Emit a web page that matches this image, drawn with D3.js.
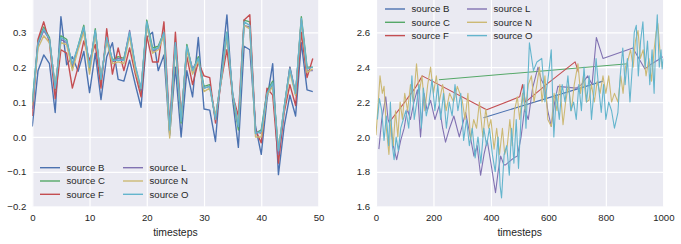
<!DOCTYPE html>
<html>
<head>
<meta charset="utf-8">
<script src="https://cdn.jsdelivr.net/npm/d3@7"></script>
<style>
  html, body { margin: 0; padding: 0; background: #fff; }
  svg { display: block; font-family: "Liberation Sans", Arial, sans-serif; }
</style>
</head>
<body>
<svg id="chart" width="681" height="244"></svg>
<script>
// left panel: 50 timesteps, one value per source
var leftB = [0.03,0.19,0.235,0.21,0.07,0.345,0.207,0.23,0.188,0.245,0.127,0.24,0.107,0.23,0.27,0.165,0.16,0.22,0.15,0.085,0.285,0.30,0.19,0.235,0.005,0.2,0.0,0.19,0.115,0.285,0.08,0.077,-0.013,0.19,0.35,0.107,-0.03,0.26,0.25,0.03,-0.05,0.107,0.21,-0.108,0.03,0.12,0.06,0.27,0.135,0.13];
var leftC = [0.1,0.275,0.315,0.285,0.135,0.29,0.28,0.2,0.26,0.32,0.19,0.31,0.16,0.285,0.22,0.23,0.225,0.295,0.2,0.13,0.335,0.255,0.26,0.3,0.01,0.27,0.04,0.265,0.19,0.23,0.145,0.15,0.05,0.17,0.3,0.12,0.02,0.335,0.33,0.01,0.02,0.13,0.16,-0.04,0.085,0.2,0.12,0.345,0.2,0.2];
var leftF = [0.06,0.28,0.33,0.27,0.11,0.25,0.24,0.14,0.2,0.275,0.22,0.265,0.14,0.31,0.18,0.255,0.19,0.255,0.18,0.115,0.29,0.215,0.215,0.33,0.03,0.3,0.06,0.23,0.15,0.215,0.175,0.17,0.04,0.16,0.25,0.12,0.06,0.335,0.35,0.02,-0.017,0.14,0.12,-0.075,0.07,0.15,0.09,0.3,0.17,0.225];
var leftL = [0.08,0.265,0.305,0.28,0.14,0.28,0.27,0.205,0.255,0.31,0.2,0.3,0.17,0.28,0.215,0.225,0.22,0.305,0.2,0.135,0.325,0.245,0.255,0.295,0.015,0.27,0.05,0.255,0.195,0.22,0.14,0.145,0.055,0.165,0.29,0.125,0.03,0.32,0.315,0.015,0.01,0.12,0.15,-0.05,0.08,0.2,0.125,0.335,0.19,0.19];
var leftN = [0.09,0.255,0.29,0.27,0.15,0.27,0.265,0.19,0.25,0.3,0.18,0.295,0.17,0.275,0.21,0.215,0.21,0.29,0.19,0.14,0.32,0.24,0.25,0.29,-0.003,0.26,0.05,0.25,0.18,0.22,0.13,0.14,0.06,0.16,0.29,0.12,0.035,0.32,0.31,0.0,0.0,0.12,0.145,-0.035,0.08,0.185,0.12,0.335,0.185,0.195];
var leftO = [0.1,0.27,0.31,0.28,0.14,0.285,0.275,0.21,0.26,0.315,0.2,0.305,0.165,0.285,0.22,0.22,0.22,0.3,0.205,0.14,0.33,0.25,0.255,0.3,0.02,0.27,0.045,0.26,0.19,0.225,0.14,0.145,0.05,0.165,0.3,0.125,0.03,0.33,0.32,0.01,0.015,0.125,0.155,-0.04,0.085,0.195,0.125,0.34,0.195,0.2];

// right panel: [timestep, value] pairs, sources have gaps
var rightB = [[374,2.11],[790,2.32]];
var rightC = [[219,2.328],[877,2.42]];
var rightF = [[49,2.09],[100,2.2],[140,2.29],[161,2.35],[385,2.156],[500,2.23],[510,2.3],[520,2.2],[600,2.31],[693,2.43],[705,2.37]];
var rightL = [[10,1.93],[20,2.1],[34,2.23],[42,2.1],[51,2.06],[60,1.95],[72,1.87],[86,1.98],[98,2.05],[109,2.16],[120,2.1],[132,2.2],[144,2.27],[155,2.0],[167,2.25],[178,2.15],[190,2.21],[205,2.1],[220,2.18],[232,2.05],[242,1.97],[256,2.05],[271,2.12],[290,2.0],[312,2.14],[326,2.02],[341,1.89],[352,1.95],[364,1.78],[376,1.9],[387,1.98],[400,1.85],[416,1.68],[425,1.8],[434,1.89],[445,1.84],[451,1.84],[465,1.86],[480,1.88],[492,1.89],[505,2.0],[517,2.16],[530,2.1],[545,2.28],[564,2.4],[575,2.33],[587,2.29],[598,2.15],[610,2.06],[622,2.2],[633,2.29],[697,2.28],[715,2.3],[737,2.35],[752,2.3],[767,2.57],[790,2.45],[894,2.51],[915,2.45],[936,2.39],[960,2.42],[980,2.44],[998,2.46]];
var rightN = [[0,2.01],[8,2.2],[14,2.35],[22,2.25],[28,2.29],[36,2.05],[45,1.9],[52,2.1],[60,1.95],[68,2.15],[76,2.0],[84,2.2],[92,2.1],[100,2.25],[110,2.15],[120,2.3],[130,2.2],[141,2.42],[150,2.25],[160,2.35],[170,2.15],[180,2.3],[190,2.4],[200,2.25],[210,2.35],[220,2.2],[232,2.3],[244,2.15],[256,2.25],[270,2.2],[283,2.29],[300,2.21],[310,2.1],[320,2.25],[329,1.98],[340,2.1],[350,2.05],[360,2.2],[372,2.0],[382,2.16],[392,2.05],[400,2.1],[411,1.93],[420,2.05],[430,1.9],[440,2.05],[448,1.9],[457,1.95],[466,2.1],[474,1.95],[482,2.15],[492,2.23],[500,2.1],[510,2.25],[520,2.15],[530,2.3],[541,2.35],[550,2.2],[560,2.3],[569,2.4],[578,2.2],[588,2.35],[598,2.1],[610,2.06],[620,2.25],[630,2.15],[640,2.3],[651,2.07],[660,2.2],[670,2.3],[680,2.15],[690,2.3],[703,2.42],[712,2.25],[722,2.35],[732,2.2],[741,2.21],[750,2.3],[760,2.2],[770,2.32],[780,2.25],[790,2.35],[800,2.25],[810,2.35],[820,2.2],[830,2.25],[842,2.2],[852,2.35],[860,2.25],[868,2.4],[877,2.44],[886,2.5],[895,2.4],[903,2.55],[912,2.61],[920,2.45],[930,2.5],[940,2.35],[950,2.45],[959,2.32],[968,2.5],[975,2.6],[981,2.65],[988,2.5],[996,2.4]];
var rightO = [[5,2.1],[12,2.22],[20,2.15],[28,1.98],[36,2.12],[44,1.95],[50,2.2],[57,1.95],[63,1.87],[70,2.0],[78,1.92],[86,2.05],[95,2.1],[104,2.15],[114,2.05],[125,2.35],[133,2.1],[142,2.2],[150,2.3],[158,2.05],[165,2.28],[175,2.12],[185,2.2],[195,2.33],[205,2.15],[215,2.3],[225,2.1],[235,2.25],[245,2.05],[255,2.2],[265,2.12],[275,2.3],[285,2.15],[295,2.25],[305,1.98],[315,2.1],[325,1.95],[335,2.05],[345,1.88],[355,2.0],[365,1.85],[375,2.05],[385,1.95],[395,2.05],[405,1.9],[415,1.8],[425,2.0],[432,1.72],[437,1.65],[446,1.9],[455,1.95],[464,1.78],[472,2.05],[480,1.85],[488,2.1],[496,1.82],[506,2.15],[515,2.3],[522,2.05],[534,2.54],[548,2.38],[560,2.43],[577,2.45],[588,2.2],[600,2.35],[610,2.5],[619,2.0],[628,2.25],[638,2.1],[648,2.3],[658,2.2],[668,2.35],[678,2.15],[688,2.2],[697,2.1],[706,2.3],[715,2.15],[724,2.4],[733,2.2],[742,2.35],[750,2.1],[758,2.25],[766,2.45],[774,2.3],[784,2.14],[792,2.3],[800,2.1],[810,2.2],[820,2.15],[830,2.05],[842,2.14],[850,2.35],[859,2.51],[867,2.3],[875,2.45],[884,2.2],[892,2.4],[899,2.6],[906,2.64],[913,2.35],[921,2.55],[929,2.66],[937,2.4],[945,2.55],[953,2.3],[961,2.5],[968,2.25],[974,2.55],[979,2.7],[986,2.4],[992,2.5],[996,2.39],[1000,2.45]];

var sourceNames = ["source B", "source C", "source F", "source L", "source N", "source O"];
var sourceColors = ["#4C72B0", "#55A868", "#C44E52", "#8172B2", "#CCB974", "#64B5CD"];
var leftXTicks = [0, 10, 20, 30, 40, 50];
var leftYTicks = [-0.2, -0.1, 0.0, 0.1, 0.2, 0.3];
var rightXTicks = [0, 200, 400, 600, 800, 1000];
var rightYTicks = [1.6, 1.8, 2.0, 2.2, 2.4, 2.6];

var svg = d3.select("#chart");

function drawPanel(opts) {
  var x = d3.scaleLinear().domain(opts.xDomain).range([opts.left, opts.right]);
  var y = d3.scaleLinear().domain(opts.yDomain).range([opts.bottom, opts.top]);

  var g = svg.append("g");
  g.append("rect")
    .attr("x", opts.left).attr("y", opts.top)
    .attr("width", opts.right - opts.left).attr("height", opts.bottom - opts.top)
    .attr("fill", "#EAEAF2");

  // grid
  var xAxis = g.append("g").attr("transform", "translate(0," + opts.bottom + ")")
    .call(d3.axisBottom(x).tickValues(opts.xTicks).tickSize(-(opts.bottom - opts.top)).tickPadding(6).tickFormat(d3.format("d")));
  var yAxis = g.append("g").attr("transform", "translate(" + opts.left + ",0)")
    .call(d3.axisLeft(y).tickValues(opts.yTicks).tickSize(-(opts.right - opts.left)).tickPadding(6).tickFormat(d3.format(".1f")));
  [xAxis, yAxis].forEach(function(a) {
    a.select(".domain").remove();
    a.selectAll(".tick line").attr("stroke", "#fff").attr("stroke-width", 1.2);
    a.selectAll(".tick text").attr("fill", "#262626").style("font-size", "9.6px");
  });
  xAxis.selectAll(".tick text").attr("dy", "0.85em");

  g.append("text")
    .attr("x", (opts.left + opts.right) / 2).attr("y", 236)
    .attr("text-anchor", "middle").attr("fill", "#262626")
    .style("font-size", "10.4px").text("timesteps");

  var clipId = "clip" + opts.id;
  svg.append("clipPath").attr("id", clipId).append("rect")
    .attr("x", opts.left).attr("y", opts.top)
    .attr("width", opts.right - opts.left).attr("height", opts.bottom - opts.top);

  var line = d3.line().x(function(d) { return x(d[0]); }).y(function(d) { return y(d[1]); });
  var lines = g.append("g").attr("clip-path", "url(#" + clipId + ")");
  opts.series.forEach(function(s, i) {
    lines.append("path").datum(s)
      .attr("d", line).attr("fill", "none")
      .attr("stroke", sourceColors[i]).attr("stroke-width", opts.lineWidth)
      .attr("stroke-linejoin", "round");
  });

  // legend, two columns of three
  var leg = g.append("g");
  sourceNames.forEach(function(name, i) {
    var col = Math.floor(i / 3), row = i % 3;
    var lx = opts.legendX + col * opts.legendColW;
    var ly = opts.legendY + row * 13.3;
    leg.append("line").attr("x1", lx).attr("x2", lx + 20).attr("y1", ly).attr("y2", ly)
      .attr("stroke", sourceColors[i]).attr("stroke-width", 1.4);
    leg.append("text").attr("x", lx + 26.5).attr("y", ly).attr("dy", "0.35em")
      .attr("fill", "#262626").style("font-size", "9.6px").text(name);
  });
}

var leftSteps = d3.range(leftB.length);
function pairUp(vals) { return leftSteps.map(function(t, i) { return [t, vals[i]]; }); }

drawPanel({
  id: "L", left: 32.3, right: 318.5, top: -2.6, bottom: 206.7,
  xDomain: [0, 50], yDomain: [-0.2, 0.4],
  xTicks: leftXTicks, yTicks: leftYTicks, lineWidth: 1.4,
  series: [pairUp(leftB), pairUp(leftC), pairUp(leftF), pairUp(leftL), pairUp(leftN), pairUp(leftO)],
  legendX: 40, legendY: 167.7, legendColW: 83
});

drawPanel({
  id: "R", left: 376, right: 663.3, top: -2.6, bottom: 206.7,
  xDomain: [0, 1000], yDomain: [1.6, 2.8],
  xTicks: rightXTicks, yTicks: rightYTicks, lineWidth: 1.1,
  series: [rightB, rightC, rightF, rightL, rightN, rightO],
  legendX: 385, legendY: 9, legendColW: 82
});
</script>
</body>
</html>
